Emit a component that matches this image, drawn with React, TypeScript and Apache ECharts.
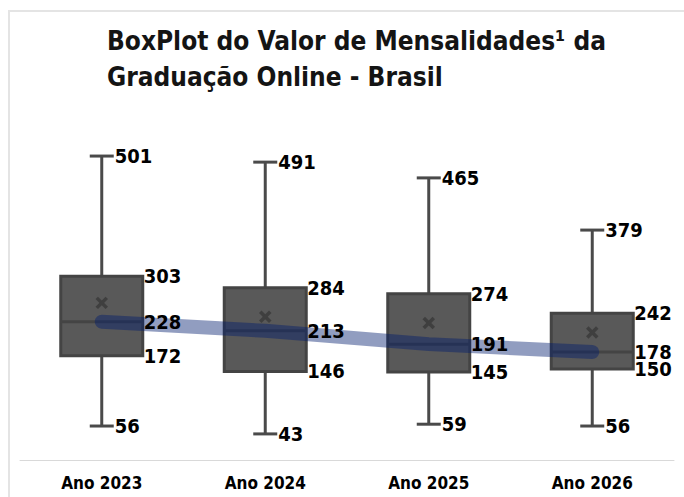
import React, { useEffect, useRef } from "react";
import * as echarts from "echarts";

const categories = ["Ano 2023", "Ano 2024", "Ano 2025", "Ano 2026"];
const minValues = [56, 43, 59, 56];
const q1Values = [172, 146, 145, 150];
const medianValues = [228, 213, 191, 178];
const q3Values = [303, 284, 274, 242];
const maxValues = [501, 491, 465, 379];
const meanValues = [259, 236, 226, 210];

const titleText = "BoxPlot do Valor de Mensalidades¹ da\nGraduação Online - Brasil";

const FONT = '"DejaVu Sans Condensed", "DejaVu Sans", sans-serif';
const LABEL_FONT = 'bold 20px "DejaVu Sans Condensed", "DejaVu Sans", sans-serif';

export default function App() {
  const ref = useRef<HTMLDivElement>(null);
  useEffect(() => {
    document.body.style.margin = "0";
    const chart = echarts.init(ref.current!, undefined, { renderer: "svg" });
    const boxData = categories.map((_, i) => [
      i,
      minValues[i],
      q1Values[i],
      medianValues[i],
      q3Values[i],
      maxValues[i],
      meanValues[i],
    ]);
    const HALF = 41;
    const CAP = 12;
    const option: any = {
      animation: false,
      backgroundColor: "#ffffff",
      title: {
        text: titleText,
        left: 102,
        top: 18,
        textStyle: {
          fontFamily: FONT,
          fontWeight: "bold",
          fontSize: 26,
          lineHeight: 36,
          color: "#141414",
        },
      },
      graphic: [
        { type: "line", shape: { x1: 9, y1: 10, x2: 9, y2: 497 }, style: { stroke: "#e4e4e4", lineWidth: 2 } },
        { type: "line", shape: { x1: 8, y1: 11, x2: 684, y2: 11 }, style: { stroke: "#e4e4e4", lineWidth: 2 } },
      ],
      grid: { left: 20, right: 10, top: 96, bottom: 37 },
      xAxis: {
        type: "category",
        data: categories,
        axisLine: { lineStyle: { color: "#d9d9d9", width: 1 } },
        axisTick: { show: false },
        axisLabel: {
          margin: 14,
          color: "#000000",
          fontFamily: FONT,
          fontWeight: "bold",
          fontSize: 17,
        },
      },
      yAxis: { type: "value", min: 0, max: 600, show: false, splitLine: { show: false } },
      series: [
        {
          type: "custom",
          z: 2,
          data: boxData,
          encode: { x: 0, y: [1, 2, 3, 4, 5] },
          renderItem: (params: any, api: any) => {
            const i = api.value(0);
            const xC = api.coord([i, 0])[0];
            const yMin = api.coord([i, api.value(1)])[1];
            const yQ1 = api.coord([i, api.value(2)])[1];
            const yMed = api.coord([i, api.value(3)])[1];
            const yQ3 = api.coord([i, api.value(4)])[1];
            const yMax = api.coord([i, api.value(5)])[1];
            const yMean = api.coord([i, api.value(6)])[1];
            const wStyle = { stroke: "#4a4a4a", lineWidth: 3 };
            const m = 5;
            return {
              type: "group",
              children: [
                { type: "line", shape: { x1: xC, y1: yMax, x2: xC, y2: yQ3 }, style: wStyle },
                { type: "line", shape: { x1: xC, y1: yQ1, x2: xC, y2: yMin }, style: wStyle },
                { type: "line", shape: { x1: xC - CAP, y1: yMax, x2: xC + CAP, y2: yMax }, style: wStyle },
                { type: "line", shape: { x1: xC - CAP, y1: yMin, x2: xC + CAP, y2: yMin }, style: wStyle },
                {
                  type: "rect",
                  shape: { x: xC - HALF, y: yQ3, width: HALF * 2, height: yQ1 - yQ3 },
                  style: { fill: "#595959", stroke: "#444444", lineWidth: 3 },
                },
                { type: "line", shape: { x1: xC - HALF, y1: yMed, x2: xC + HALF, y2: yMed }, style: { stroke: "#444444", lineWidth: 3 } },
                { type: "line", shape: { x1: xC - m, y1: yMean - m, x2: xC + m, y2: yMean + m }, style: { stroke: "#3f3f3f", lineWidth: 3.5 } },
                { type: "line", shape: { x1: xC - m, y1: yMean + m, x2: xC + m, y2: yMean - m }, style: { stroke: "#3f3f3f", lineWidth: 3.5 } },
              ],
            };
          },
        },
        {
          type: "line",
          z: 3,
          data: medianValues,
          symbol: "none",
          lineStyle: { width: 14, color: "rgba(0,28,110,0.43)", cap: "round", join: "round" },
        },
        {
          type: "custom",
          z: 5,
          data: boxData,
          encode: { x: 0, y: [1, 2, 3, 4, 5] },
          renderItem: (params: any, api: any) => {
            const i = api.value(0);
            const xC = api.coord([i, 0])[0];
            const vals = [1, 2, 3, 4, 5].map((k) => api.value(k));
            const ys = vals.map((v) => api.coord([i, v])[1]);
            const mk = (x: number, y: number, t: number) => ({
              type: "text",
              x,
              y,
              style: {
                text: String(t),
                fill: "#000000",
                font: LABEL_FONT,
                align: "left",
                verticalAlign: "middle",
              },
            });
            return {
              type: "group",
              children: [
                mk(xC + CAP + 1, ys[0], vals[0]),
                mk(xC + HALF + 1, ys[1], vals[1]),
                mk(xC + HALF + 1, ys[2], vals[2]),
                mk(xC + HALF + 1, ys[3], vals[3]),
                mk(xC + CAP + 1, ys[4], vals[4]),
              ],
            };
          },
        },
      ],
    };
    chart.setOption(option);
    return () => chart.dispose();
  }, []);
  return <div ref={ref} style={{ width: 684, height: 497 }} />;
}
